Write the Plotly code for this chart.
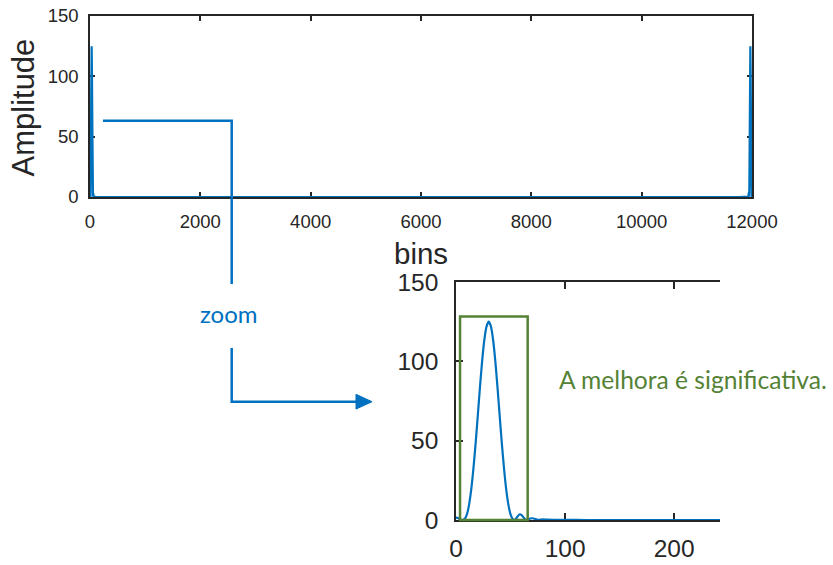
import plotly.graph_objects as go

# ---------------- data ----------------
# low-bin spectrum (zoomed view), bin index and amplitude
bins = [0, 2, 4, 6, 8, 10, 12, 14, 16, 18, 20, 22, 24, 26, 28, 30, 32, 34, 36,
        38, 40, 42, 44, 46, 48, 50, 52, 54, 56, 58, 60, 62, 64, 66, 68, 70, 72,
        74, 76, 78, 80, 84, 90, 100, 120, 160, 200, 242]
amplitude = [1.5, 1.2, 0.3, 0.0, 0.7, 3.5, 9.7, 19.4, 32.6, 48.5, 66.0, 84.0,
             100.4, 113.6, 122.0, 125.0, 122.0, 113.6, 100.4, 84.0, 66.0, 48.5,
             32.6, 19.4, 9.7, 3.5, 0.6, 0.2, 1.8, 3.5, 3.2, 1.5, 0.2, 0.3, 0.9,
             1.1, 0.8, 0.3, 0.1, 0.3, 0.4, 0.2, 0.1, 0.05, 0.0, 0.0, 0.0, 0.0]

N_BINS = 12000
# full spectrum: low bins plus their mirror image near N_BINS
full_x = bins + [N_BINS - b for b in reversed(bins)]
full_y = amplitude + list(reversed(amplitude))

top_xticks = [0, 2000, 4000, 6000, 8000, 10000, 12000]
top_xlabels = ['0', '2000', '4000', '6000', '8000', '10000', '12000']
y_ticks = [0, 50, 100, 150]
y_labels = ['0', '50', '100', '150']
zoom_xticks = [0, 100, 200]
zoom_xlabels = ['0', '100', '200']

# highlighted region in the zoomed plot (data units)
box_x = [3.7, 65.7]
box_y = [0.0, 128.3]

W, H = 833, 565
BLUE = '#0072BD'
ARROW = '#0070C0'
GREEN = '#548235'
AX = '#262626'

top_dom_x = [90 / W, 752 / W]
top_dom_y = [1 - 197 / H, 1 - 16 / H]
zm_dom_x = [456 / W, 720 / W]
zm_dom_y = [1 - 520 / H, 1 - 282 / H]
zm_range_x = [0, 242]
zm_range_y = [0, 150]


def P(px, py):
    return px / W, 1 - py / H


fig = go.Figure()
fig.add_trace(go.Scatter(x=full_x, y=full_y, mode='lines',
                         line=dict(color=BLUE, width=2.2),
                         xaxis='x', yaxis='y', cliponaxis=False,
                         showlegend=False, hoverinfo='skip'))
fig.add_trace(go.Scatter(x=bins, y=amplitude, mode='lines',
                         line=dict(color=BLUE, width=2.2, shape='spline', smoothing=0.6),
                         xaxis='x2', yaxis='y2', cliponaxis=False,
                         showlegend=False, hoverinfo='skip'))

tick_font_top = dict(family='Liberation Sans, Arial, sans-serif', size=18.5, color=AX)
tick_font_zm = dict(family='Liberation Sans, Arial, sans-serif', size=24.5, color=AX)

common = dict(showgrid=False, zeroline=False, showline=True, linecolor=AX,
              linewidth=1.5, ticks='inside', tickcolor=AX, tickwidth=1.5,
              layer='below traces', fixedrange=True, automargin=False,
              tickmode='array')

fig.update_layout(
    template='none',
    width=W, height=H,
    margin=dict(l=0, r=0, t=0, b=0, pad=0, autoexpand=False),
    paper_bgcolor='white', plot_bgcolor='white',
    showlegend=False,
    xaxis=dict(domain=top_dom_x, range=[0, N_BINS], tickvals=top_xticks,
               ticktext=top_xlabels,
               ticklen=5, mirror='ticks', anchor='y', tickfont=tick_font_top,
               ticklabelstandoff=7, **common),
    yaxis=dict(domain=top_dom_y, range=[0, 150], tickvals=y_ticks,
               ticktext=y_labels,
               ticklen=5, mirror='ticks', anchor='x', tickfont=tick_font_top,
               ticklabelstandoff=6, **common),
    xaxis2=dict(domain=zm_dom_x, range=zm_range_x, tickvals=zoom_xticks,
                ticktext=zoom_xlabels,
                ticklen=7, mirror='ticks', anchor='y2', tickfont=tick_font_zm,
                ticklabelstandoff=6, **common),
    yaxis2=dict(domain=zm_dom_y, range=zm_range_y, tickvals=y_ticks,
                ticktext=y_labels,
                ticklen=7, mirror=False, anchor='x2', tickfont=tick_font_zm,
                ticklabelstandoff=11, **common),
)

# axis titles
fig.add_annotation(text='Amplitude', x=23 / W, y=1 - 107.5 / H, xref='paper', yref='paper',
                   textangle=-90, showarrow=False, xanchor='center', yanchor='middle',
                   font=dict(family='Liberation Sans, Arial, sans-serif', size=31, color=AX))
fig.add_annotation(text='bins', x=420.5 / W, y=1 - 253 / H, xref='paper', yref='paper',
                   showarrow=False, xanchor='center', yanchor='middle',
                   font=dict(family='Liberation Sans, Arial, sans-serif', size=29.5, color=AX))

# "zoom" connector
fig.add_annotation(text='zoom', x=228.5 / W, y=1 - 313 / H, xref='paper', yref='paper',
                   showarrow=False, xanchor='center', yanchor='middle',
                   font=dict(family='Lato, Noto Sans, sans-serif', size=24, color=ARROW))
fig.add_annotation(text='A melhora é significativa.', x=557 / W, y=1 - 379 / H,
                   xref='paper', yref='paper', showarrow=False,
                   xanchor='left', yanchor='middle',
                   font=dict(family='Lato, Noto Sans, sans-serif', size=24.6, color=GREEN))


def path(points, close=False):
    s = ''
    for i, (px, py) in enumerate(points):
        x, y = P(px, py)
        s += ('M' if i == 0 else 'L') + f'{x:.5f},{y:.5f} '
    if close:
        s += 'Z'
    return s


fig.add_shape(type='path', xref='paper', yref='paper',
              path=path([(103, 120.7), (231.7, 120.7), (231.7, 284)]),
              line=dict(color=ARROW, width=2.5))
fig.add_shape(type='path', xref='paper', yref='paper',
              path=path([(231.7, 348), (231.7, 401.7), (358, 401.7)]),
              line=dict(color=ARROW, width=2.5))
fig.add_shape(type='path', xref='paper', yref='paper',
              path=path([(356, 394.3), (372, 401.7), (356, 409.1)], close=True),
              line=dict(color=ARROW, width=1), fillcolor=ARROW)


# green box: convert its data bounds through the zoom axes' domain/range
def to_paper(v, dom, rng):
    return dom[0] + (v - rng[0]) / (rng[1] - rng[0]) * (dom[1] - dom[0])


fig.add_shape(type='rect', xref='paper', yref='paper',
              x0=to_paper(box_x[0], zm_dom_x, zm_range_x),
              x1=to_paper(box_x[1], zm_dom_x, zm_range_x),
              y0=to_paper(box_y[0], zm_dom_y, zm_range_y),
              y1=to_paper(box_y[1], zm_dom_y, zm_range_y),
              line=dict(color=GREEN, width=2.5))

fig.write_html('out.html', config=dict(displayModeBar=False))
